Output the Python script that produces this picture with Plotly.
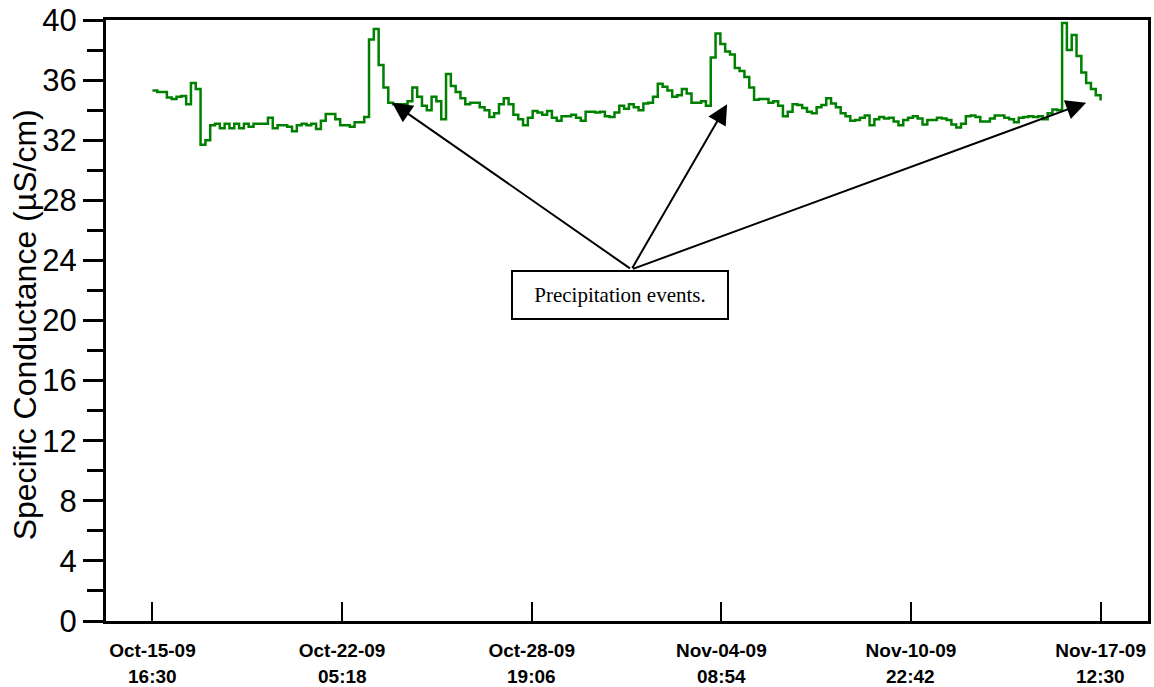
import pandas as pd
import plotly.graph_objects as go

# Specific conductance logged every 4 hours (µS/cm)
start = "2009-10-15 16:30"
step_hours = 4
conductance = [
    35.3, 35.2, 35.2, 34.85, 34.75, 34.9, 34.95, 34.4, 35.8, 35.4,
    31.7, 32.0, 33.0, 33.1, 32.8, 33.1, 32.8, 33.1, 32.8, 33.1,
    32.9, 33.1, 33.1, 33.1, 33.5, 32.8, 33.0, 33.0, 32.9, 32.6,
    33.0, 33.1, 33.0, 33.1, 32.75, 33.3, 33.75, 33.75, 33.4, 33.0,
    33.0, 32.9, 33.2, 33.2, 33.55, 38.7, 39.4, 37.0, 35.5, 34.5,
    34.4, 34.4, 34.4, 34.6, 35.5, 34.9, 34.3, 34.0, 34.9, 34.6,
    33.4, 36.4, 35.6, 35.2, 34.8, 34.4, 34.5, 34.5, 34.2, 34.0,
    33.55, 33.8, 34.4, 34.8, 34.4, 33.7, 33.4, 33.0, 33.5, 33.95,
    33.85, 33.7, 33.95, 33.5, 33.3, 33.6, 33.6, 33.7, 33.5, 33.3,
    33.9, 33.9, 33.85, 33.9, 33.6, 33.55, 33.85, 34.3, 34.1, 34.4,
    34.2, 34.0, 34.45, 34.5, 34.9, 35.75, 35.55, 35.3, 34.9, 35.0,
    35.4, 35.1, 34.5, 34.5, 34.6, 34.3, 37.5, 39.1, 38.4, 37.9,
    37.7, 36.8, 36.6, 36.2, 35.5, 34.7, 34.75, 34.75, 34.5, 34.6,
    34.3, 33.6, 33.9, 34.4, 34.35, 34.15, 33.9, 33.8, 34.2, 34.35,
    34.8, 34.45, 34.2, 33.8, 33.6, 33.3, 33.35, 33.5, 33.65, 33.0,
    33.4, 33.55, 33.45, 33.5, 33.25, 33.0, 33.35, 33.5, 33.6, 33.45,
    33.05, 33.35, 33.35, 33.5, 33.45, 33.35, 33.05, 32.85, 33.1, 33.6,
    33.65, 33.55, 33.25, 33.25, 33.45, 33.65, 33.65, 33.5, 33.4, 33.2,
    33.5, 33.55, 33.6, 33.55, 33.6, 33.4, 33.8, 34.05, 34.0, 39.8,
    38.0, 39.0, 37.6, 36.5, 35.8, 35.4, 35.0, 34.65,
]
times = pd.date_range(start, periods=len(conductance), freq=f"{step_hours}h")

tick_dates = ["Oct-15-09", "Oct-22-09", "Oct-28-09", "Nov-04-09", "Nov-10-09", "Nov-17-09"]
tick_times = ["16:30", "05:18", "19:06", "08:54", "22:42", "12:30"]
tick_positions = pd.date_range(times[0], times[-1], periods=len(tick_dates))

# Precipitation event markers
event_times = ["2009-10-23 23:42", "2009-11-04 14:06", "2009-11-17 00:30"]
event_values = [34.5, 34.4, 34.5]
label_anchor_time = "2009-11-01 06:36"
label_anchor_value = 23.4
label_center_time = "2009-10-31 20:42"
label_center_value = 21.7
label_text = "Precipitation events."

x_range = [times[0] - pd.Timedelta(hours=38.6), times[-1] + pd.Timedelta(hours=39.4)]

label_font = dict(family="Liberation Sans, Arial, sans-serif", size=19, color="black", weight="bold")

fig = go.Figure()
fig.add_trace(go.Scatter(
    x=times, y=conductance, mode="lines",
    line=dict(color="#008000", width=2.5, shape="hv"),
    hoverinfo="skip", showlegend=False,
))

annotations = []
for t, v in zip(event_times, event_values):
    annotations.append(dict(
        x=t, y=v, xref="x", yref="y",
        ax=label_anchor_time, ay=label_anchor_value, axref="x", ayref="y",
        text="", showarrow=True, arrowhead=2, arrowsize=2,
        arrowwidth=2, arrowcolor="black",
    ))
annotations.append(dict(
    x=label_center_time, y=label_center_value, xref="x", yref="y",
    text=label_text, showarrow=False,
    font=dict(family="Liberation Serif, Times New Roman, serif", size=21, color="black"),
    bgcolor="white", bordercolor="black", borderwidth=2, borderpad=2,
    width=210, height=42, align="center", valign="middle",
))
for tv, tt in zip(tick_positions, tick_times):
    annotations.append(dict(
        x=tv, y=0, xref="x", yref="paper", yanchor="middle",
        yshift=-55, text=tt, showarrow=False, borderpad=0,
        font=label_font,
    ))
annotations.append(dict(
    x=-0.0775, y=0.4924, xref="paper", yref="paper",
    xanchor="center", yanchor="middle", textangle=-90,
    text="Specific Conductance (µS/cm)", showarrow=False,
    font=dict(family="Liberation Sans, Arial, sans-serif", size=32, color="black"),
))

fig.update_layout(
    width=1154, height=687,
    margin=dict(l=106, r=3, t=18, b=66),
    paper_bgcolor="white", plot_bgcolor="white",
    showlegend=False,
    annotations=annotations,
    xaxis=dict(
        type="date", range=x_range,
        tickmode="array", tickvals=tick_positions, ticktext=tick_dates,
        ticks="inside", ticklen=19, tickwidth=2, tickcolor="black",
        showline=True, linecolor="black", linewidth=3, mirror=True,
        showgrid=False, zeroline=False,
        tickfont=label_font,
        ticklabelstandoff=10,
    ),
    yaxis=dict(
        range=[0, 40], tickmode="linear", tick0=0, dtick=4,
        ticks="outside", ticklen=20, tickwidth=3, tickcolor="black",
        minor=dict(dtick=2, ticks="outside", ticklen=16, tickwidth=3, tickcolor="black"),
        showline=True, linecolor="black", linewidth=3, mirror=True,
        showgrid=False, zeroline=False,
        tickfont=dict(family="Liberation Sans, Arial, sans-serif", size=31, color="black"),
    ),
)

fig.write_html("out.html")
